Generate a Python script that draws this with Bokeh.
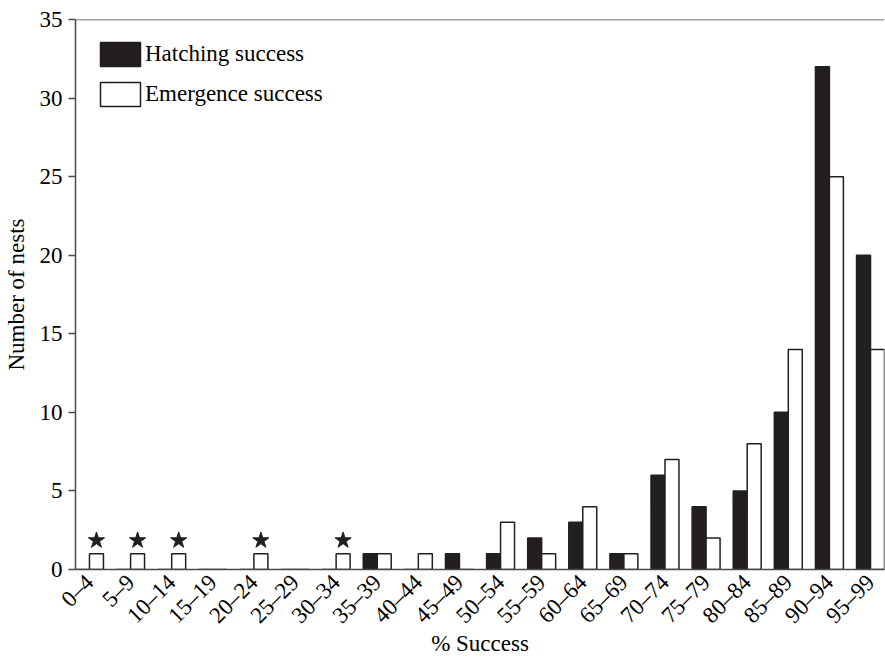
from bokeh.plotting import figure
from bokeh.models import Range1d, FixedTicker, Legend, LegendItem, Span, ColumnDataSource
from bokeh.embed import file_html
from bokeh.resources import INLINE
import math

categories = ["0–4", "5–9", "10–14", "15–19", "20–24", "25–29", "30–34", "35–39",
              "40–44", "45–49", "50–54", "55–59", "60–64", "65–69", "70–74", "75–79",
              "80–84", "85–89", "90–94", "95–99"]
hatching = [0, 0, 0, 0, 0, 0, 0, 1, 0, 1, 1, 2, 3, 1, 6, 4, 5, 10, 32, 20]
emergence = [1, 1, 1, 0, 1, 0, 1, 1, 1, 0, 3, 1, 4, 1, 7, 2, 8, 14, 25, 14]
star_categories = ["0–4", "5–9", "10–14", "20–24", "30–34"]
y_ticks = [0, 5, 10, 15, 20, 25, 30, 35]

FONT = "Liberation Serif"
FS = "23px"
DARK = "#231f20"
AX = "#4a4a4a"
BW = 0.34

idx = list(range(len(categories)))
src_h = ColumnDataSource(dict(x=[i - BW / 2 for i in idx], top=hatching))
src_e = ColumnDataSource(dict(x=[i + BW / 2 for i in idx], top=emergence))
star_idx = [categories.index(c) for c in star_categories]
src_s = ColumnDataSource(dict(x=[i + BW / 2 for i in star_idx],
                              y=[emergence[i] + 0.85 for i in star_idx]))

p = figure(width=885, height=660, output_backend="svg", toolbar_location=None,
           x_range=Range1d(-BW, len(categories) - 1 + BW), y_range=Range1d(0, 35),
           min_border_left=72, min_border_right=1, min_border_top=19, min_border_bottom=91)
p.outline_line_color = None
p.xgrid.visible = False
p.ygrid.visible = False
p.background_fill_color = "white"
p.border_fill_color = "white"

rh = p.vbar(x="x", top="top", bottom=0, width=BW, source=src_h,
            fill_color=DARK, line_color=DARK, line_width=1.5)
re = p.vbar(x="x", top="top", bottom=0, width=BW, source=src_e,
            fill_color="white", line_color=DARK, line_width=1.5)
p.scatter(x="x", y="y", source=src_s, marker="star", size=17,
          fill_color=DARK, line_color=DARK)

p.add_layout(Span(location=35, dimension="width", line_color=AX, line_width=1.5))

# axes
p.xaxis.ticker = FixedTicker(ticks=idx)
p.xaxis.major_label_overrides = {i: c for i, c in zip(idx, categories)}
p.xaxis.major_label_orientation = math.pi / 4
p.xaxis.major_tick_line_color = None
p.xaxis.minor_tick_line_color = None
p.xaxis.axis_line_color = AX
p.xaxis.axis_line_width = 1.5
p.xaxis.major_label_text_font = FONT
p.xaxis.major_label_text_font_size = FS
p.xaxis.major_label_text_color = "black"
p.xaxis.major_label_standoff = 3
p.xaxis.axis_label = "% Success"
p.xaxis.axis_label_text_font = FONT
p.xaxis.axis_label_text_font_size = FS
p.xaxis.axis_label_text_font_style = "normal"
p.xaxis.axis_label_text_color = "black"
p.xaxis.axis_label_standoff = -9

p.yaxis.ticker = FixedTicker(ticks=y_ticks)
p.yaxis.minor_tick_line_color = None
p.yaxis.major_tick_out = 7
p.yaxis.major_tick_in = 0
p.yaxis.major_tick_line_color = AX
p.yaxis.major_tick_line_width = 1.5
p.yaxis.axis_line_color = AX
p.yaxis.axis_line_width = 1.5
p.yaxis.major_label_text_font = FONT
p.yaxis.major_label_text_font_size = FS
p.yaxis.major_label_text_color = "black"
p.yaxis.major_label_standoff = 6
p.yaxis.axis_label = "Number of nests"
p.yaxis.axis_label_text_font = FONT
p.yaxis.axis_label_text_font_size = FS
p.yaxis.axis_label_text_font_style = "normal"
p.yaxis.axis_label_text_color = "black"
p.yaxis.axis_label_standoff = 8

legend = Legend(items=[LegendItem(label="Hatching success", renderers=[rh]),
                       LegendItem(label="Emergence success", renderers=[re])],
                location="top_left", margin=20, padding=11, spacing=10,
                glyph_width=50, glyph_height=30, label_standoff=0,
                label_text_font=FONT, label_text_font_size=FS,
                label_text_color="black", label_height=30,
                border_line_color=None, background_fill_alpha=0)
p.add_layout(legend)

open("out.html", "w").write(file_html(p, INLINE))
